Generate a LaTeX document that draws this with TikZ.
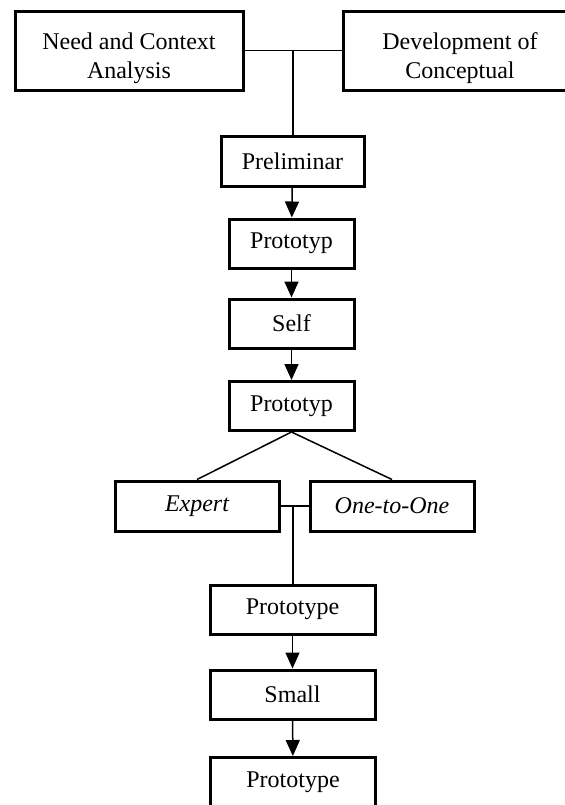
\documentclass[tikz,border=0pt]{standalone}
\usepackage{fontspec}
\setmainfont{Liberation Serif}
\usepackage{tikz}
\usetikzlibrary{shapes, arrows.meta, positioning}

\begin{document}
\begin{tikzpicture}
  [
    x=0.5pt, y=-0.5pt,
    Wide/.style={rectangle, draw=black, line width=1.5pt, align=center, font=\fontsize{12}{14.5}\selectfont, minimum width=114pt, minimum height=39.5pt, inner sep=0pt, text height=31pt},
    Box/.style={rectangle, draw=black, line width=1.5pt, font=\fontsize{12}{14}\selectfont, minimum width=62.5pt, minimum height=24.5pt, inner sep=0pt},
    Mid/.style={Box, minimum width=82pt, minimum height=25pt},
    Link/.style={draw, line width=0.75pt},
    Flow/.style={draw, line width=0.75pt, -{Triangle[length=8pt, width=7pt]}}
  ]
  \useasboundingbox (0, 0) rectangle (564, 805);

  % Nodes
  \node[Wide] (need) at(129, 50.5) {Need and Context\\Analysis};
  \node[Wide, minimum width=117pt] (dev) at(460, 50.5) {Development of\\Conceptual};
  \node[Box, minimum width=71.5pt, minimum height=25pt] (prelim) at(292.5, 161) {Preliminar};
  \node[Box] (protoa) at(291.5, 243.5) {Prototyp};
  \node[Box] (self) at(291.5, 323.5) {Self};
  \node[Box] (protob) at(291.5, 406) {Prototyp};
  \node[Mid] (expert) at(197, 506) {\itshape Expert};
  \node[Mid] (one) at(392, 506) {\itshape One-to-One};
  \node[Mid, minimum width=82.5pt, minimum height=24.5pt] (protoc) at(292.5, 609.5) {Prototype};
  \node[Mid, minimum width=82.5pt, minimum height=24.5pt] (small) at(292.5, 694.5) {Small};
  \node[Mid, minimum width=82.5pt, minimum height=24.5pt] (protod) at(293, 782) {Prototype};

  \coordinate (top) at(293, 50.5);
  \coordinate (bot) at(293, 506);

  % Lines
  \path [Link] (need) -- (dev);
  \path [Link] (top) -- (top |- prelim.north);
  \path [Flow] (prelim) -- (protoa);
  \path [Flow] (protoa) -- (self);
  \path [Flow] (self) -- (protob);
  \path [Link] (protob.south) -- (expert.north);
  \path [Link] (protob.south) -- (one.north);
  \path [Link] (expert) -- (one);
  \path [Link] (bot) -- (bot |- protoc.north);
  \path [Flow] (protoc) -- (small);
  \path [Flow] (small) -- (protod);

\end{tikzpicture}
\end{document}
